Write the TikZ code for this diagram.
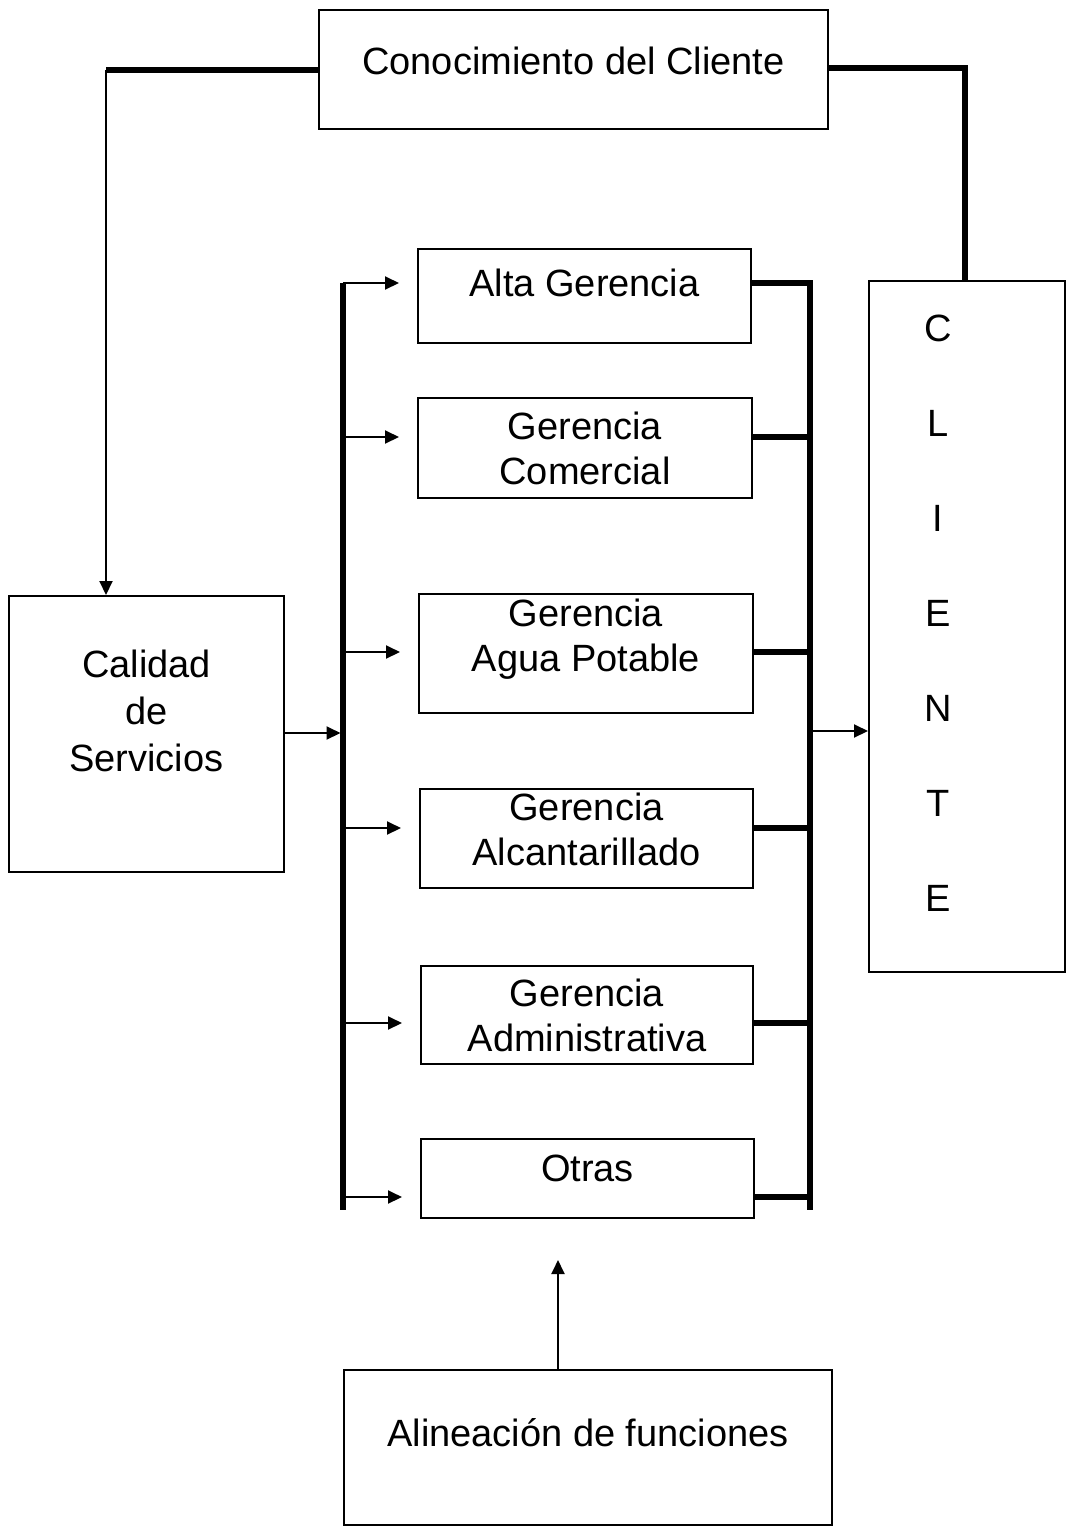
\documentclass[tikz,border=0pt]{standalone}
\usepackage{fontspec}
\setmainfont{Liberation Sans}
\usetikzlibrary{arrows.meta}
\tikzstyle{caja}=[draw, rectangle, line width=2pt, inner sep=0pt, align=center,
font=\fontsize{38}{45}\selectfont]
\tikzstyle{flecha}=[line width=2pt, -{Triangle[length=14pt,width=13pt]}]
\tikzstyle{grueso}=[line width=5.5pt]

\begin{document}
\begin{tikzpicture}[x=1pt,y=-1pt]
\useasboundingbox (0,0) rectangle (1067,1532);
\draw (573.5,69.5) node [caja, minimum width=509pt, minimum height=119pt, text depth=17pt] (conoc) {Conocimiento del Cliente};
\draw (146.5,734) node [caja, minimum width=275pt, minimum height=276pt, text depth=46pt, font=\fontsize{38}{47}\selectfont] (calidad) {Calidad\\de\\Servicios};
\draw (584.5,296) node [caja, minimum width=333pt, minimum height=94pt, text depth=26pt] (alta) {Alta Gerencia};
\draw (585,448) node [caja, minimum width=334pt, minimum height=100pt] (comercial) {Gerencia\\Comercial};
\draw (586,653.5) node [caja, minimum width=334pt, minimum height=119pt, text depth=36pt] (agua) {Gerencia\\Agua Potable};
\draw (586.5,838.5) node [caja, minimum width=333pt, minimum height=99pt, text depth=18pt] (alcant) {Gerencia\\Alcantarillado};
\draw (587,1015) node [caja, minimum width=332pt, minimum height=98pt] (admin) {Gerencia\\Administrativa};
\draw (587.5,1178.5) node [caja, minimum width=333pt, minimum height=79pt, text depth=20pt] (otras) {Otras};
\draw (588,1447.5) node [caja, minimum width=488pt, minimum height=155pt, text depth=30pt] (alin) {Alineación de funciones};
\draw (967,626.5) node [caja, minimum width=196pt, minimum height=691pt] (cliente) {};
\draw (938,613) node [align=center, font=\fontsize{38}{95}\selectfont] (letras) {C\\L\\I\\E\\N\\T\\E};

\coordinate (izq1) at (343,283);
\coordinate (izq2) at (343,437);
\coordinate (izq3) at (343,652);
\coordinate (izq4) at (343,828);
\coordinate (izq5) at (343,1023);
\coordinate (izq6) at (343,1197);
\coordinate (izqfin) at (343,1210);
\coordinate (izqcal) at (343,733);
\coordinate (der1) at (810,283);
\coordinate (der2) at (810,437);
\coordinate (der3) at (810,652);
\coordinate (der4) at (810,828);
\coordinate (der5) at (810,1023);
\coordinate (der6) at (810,1197);
\coordinate (derfin) at (810,1210);
\coordinate (dercli) at (810,731);
\coordinate (esqizq) at (106,70);
\coordinate (esqder) at (965,68);
\coordinate (punta) at (558,1260);

\draw [grueso] (izq1) -- (izqfin);
\draw [grueso] (alta.east |- der1) -- (der1) -- (derfin);
\draw [grueso] (comercial.east |- der2) -- (der2);
\draw [grueso] (agua.east |- der3) -- (der3);
\draw [grueso] (alcant.east |- der4) -- (der4);
\draw [grueso] (admin.east |- der5) -- (der5);
\draw [grueso] (otras.east |- der6) -- (der6);
\draw [flecha, shorten >=18pt] (izq1) -- (alta.west |- izq1);
\draw [flecha, shorten >=18pt] (izq2) -- (comercial.west |- izq2);
\draw [flecha, shorten >=18pt] (izq3) -- (agua.west |- izq3);
\draw [flecha, shorten >=18pt] (izq4) -- (alcant.west |- izq4);
\draw [flecha, shorten >=18pt] (izq5) -- (admin.west |- izq5);
\draw [flecha, shorten >=18pt] (izq6) -- (otras.west |- izq6);
\draw [flecha, shorten >=2.5pt] (calidad.east |- izqcal) -- (izqcal);
\draw [flecha] (dercli) -- (cliente.west |- dercli);
\draw [grueso] (conoc.west |- esqizq) -- (esqizq);
\draw [flecha] (esqizq) -- (calidad.north -| esqizq);
\draw [grueso] (conoc.east |- esqder) -- (esqder) -- (cliente.north -| esqder);
\draw [flecha] (alin.north -| punta) -- (punta);
\end{tikzpicture}
\end{document}
